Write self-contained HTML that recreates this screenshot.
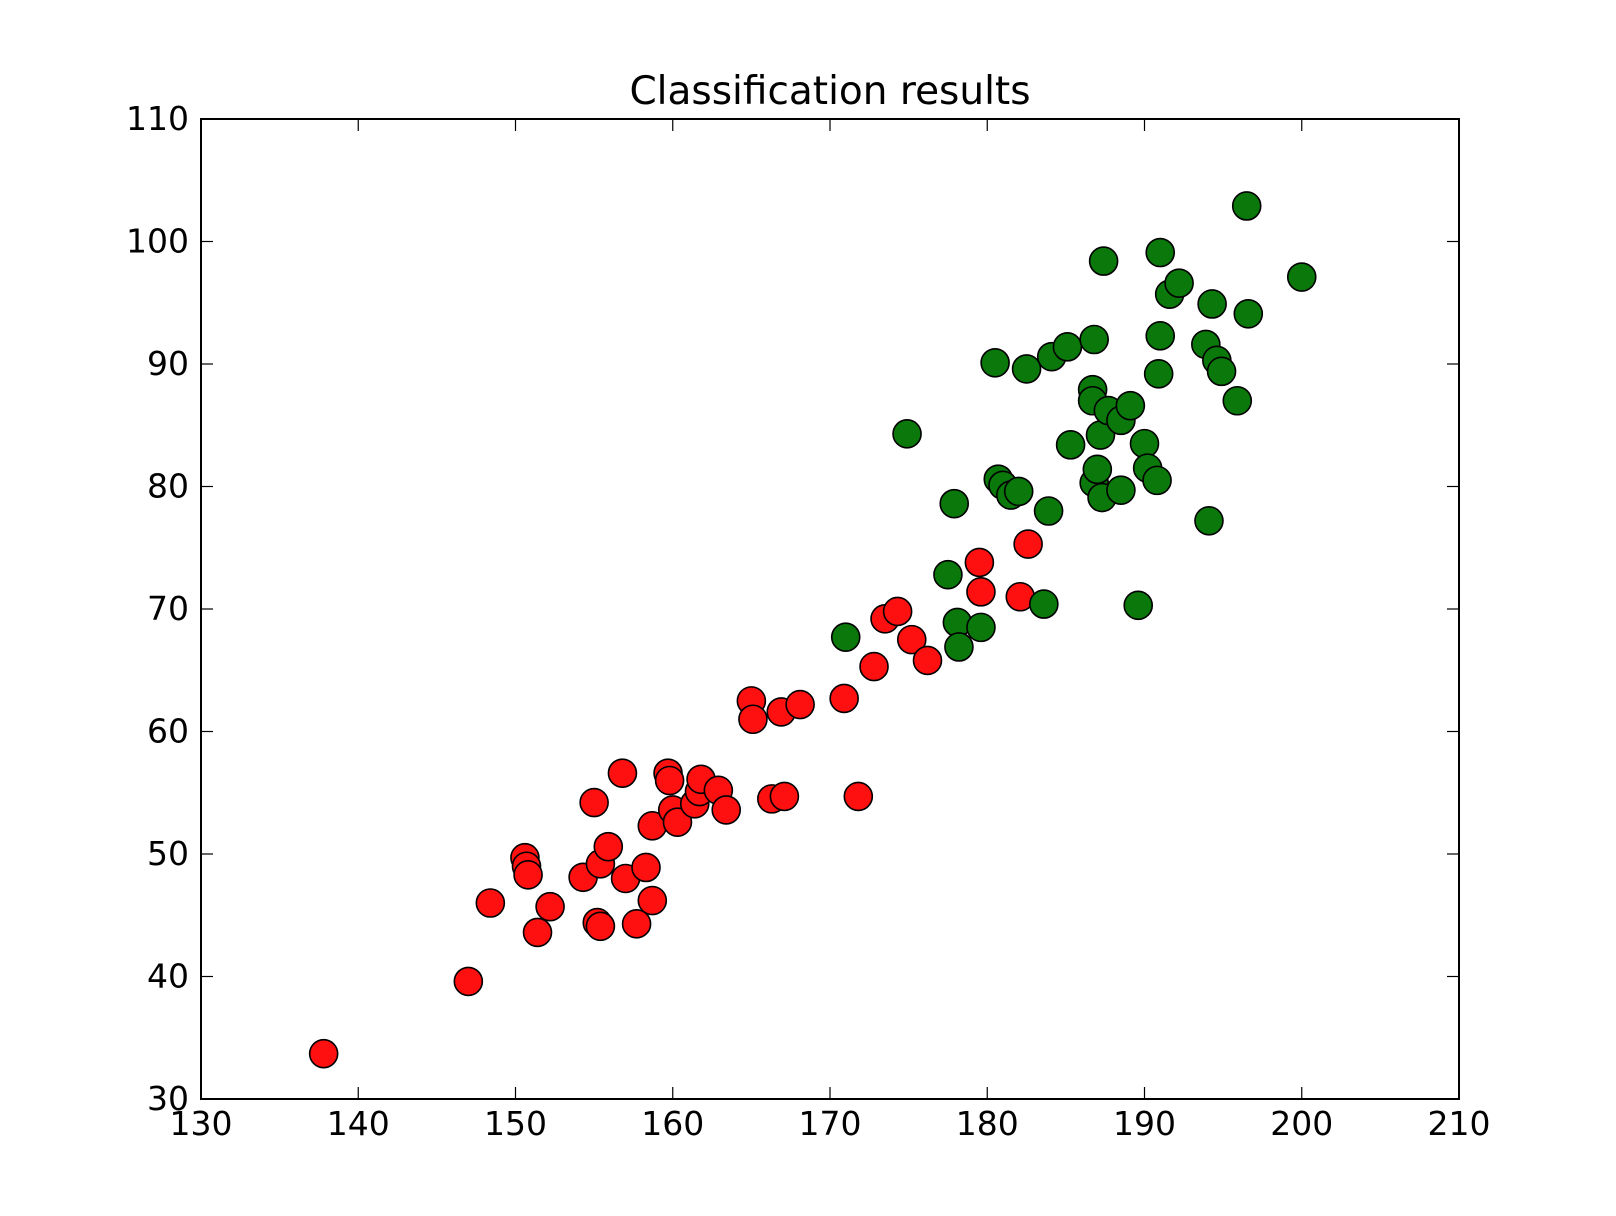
<!DOCTYPE html>
<html><head><meta charset="utf-8"><style>
html,body{margin:0;padding:0;background:#fff}
svg{display:block}
text{font-family:"DejaVu Sans","Liberation Sans",sans-serif;fill:#000}
</style></head><body>
<svg id="chart" width="1616" height="1216" viewBox="0 0 1616 1216" xmlns="http://www.w3.org/2000/svg">
<rect width="1616" height="1216" fill="#fff"/>
<text x="830" y="104" font-size="39" text-anchor="middle">Classification results</text>
<g id="marks"></g>
<g id="axes"></g>
</svg>
<script>
const xTicks=[130,140,150,160,170,180,190,200,210];
const yTicks=[30,40,50,60,70,80,90,100,110];
const redX=[137.8,147.0,148.4,150.6,150.7,150.8,151.4,152.2,154.3,155.0,155.2,155.4,155.4,155.9,156.8,157.0,157.7,158.3,158.7,158.7,159.7,159.8,160.0,160.3,161.4,161.7,161.8,162.9,163.4,165.0,165.1,166.3,167.1,166.9,168.1,170.9,171.8,172.8,173.5,174.3,175.2,176.2,179.5,179.6,182.1,182.6];
const redY=[33.7,39.6,46.0,49.7,49.0,48.3,43.6,45.7,48.1,54.2,44.4,44.1,49.2,50.6,56.6,48.0,44.3,48.9,52.3,46.2,56.6,56.0,53.6,52.6,54.1,55.1,56.1,55.2,53.6,62.5,61.0,54.5,54.7,61.6,62.2,62.7,54.7,65.3,69.2,69.8,67.5,65.8,73.8,71.4,71.0,75.3];
const greenX=[171.0,174.9,177.5,177.9,178.1,178.2,179.6,180.5,180.7,181.0,181.5,182.0,182.5,183.6,183.9,184.1,185.1,185.3,186.8,186.7,186.7,186.8,187.0,187.3,187.2,187.4,187.7,188.5,188.5,189.1,189.6,190.0,190.2,190.8,190.9,191.0,191.0,191.6,192.2,193.9,194.1,194.3,194.6,194.9,195.9,196.5,196.6,200.0];
const greenY=[67.7,84.3,72.8,78.6,68.9,66.9,68.5,90.1,80.6,80.1,79.3,79.6,89.6,70.4,78.0,90.6,91.4,83.4,92.0,87.9,87.0,80.3,81.4,79.1,84.2,98.4,86.2,85.4,79.7,86.6,70.3,83.5,81.5,80.5,89.2,92.3,99.1,95.7,96.6,91.6,77.2,94.9,90.3,89.4,87.0,102.9,94.1,97.1];

const L=201,R=1459,T=119,B=1099;
const xs=v=>L+(v-130)/80*(R-L);
const ys=v=>B-(v-30)/80*(B-T);
const NS='http://www.w3.org/2000/svg';
function mk(tag,attrs,parent){const e=document.createElementNS(NS,tag);for(const k in attrs)e.setAttribute(k,attrs[k]);parent.appendChild(e);return e;}
const marks=document.getElementById('marks'),axes=document.getElementById('axes');
redX.forEach((x,i)=>{const c=mk('circle',{cx:xs(x),cy:ys(redY[i]),r:14,fill:'#ff1010',stroke:'#000','stroke-width':1.6},marks);

});
greenX.forEach((x,i)=>{const c=mk('circle',{cx:xs(x),cy:ys(greenY[i]),r:14,fill:'#0a780a',stroke:'#000','stroke-width':1.6},marks);

});
const frame=mk('rect',{x:L,y:T,width:R-L,height:B-T,fill:'none',stroke:'#000','stroke-width':2},axes);


xTicks.forEach(v=>{const x=xs(v);
mk('line',{x1:x,y1:B,x2:x,y2:B-12,stroke:'#000','stroke-width':1.2},axes);
mk('line',{x1:x,y1:T,x2:x,y2:T+12,stroke:'#000','stroke-width':1.2},axes);
const t=mk('text',{x:x,y:B+36,'font-size':33,'text-anchor':'middle'},axes);t.textContent=v;

});
yTicks.forEach(v=>{const y=ys(v);
mk('line',{x1:L,y1:y,x2:L+12,y2:y,stroke:'#000','stroke-width':1.2},axes);
mk('line',{x1:R,y1:y,x2:R-12,y2:y,stroke:'#000','stroke-width':1.2},axes);
const t=mk('text',{x:L-12,y:y+11,'font-size':33,'text-anchor':'end'},axes);t.textContent=v;

});
</script>
</body></html>
